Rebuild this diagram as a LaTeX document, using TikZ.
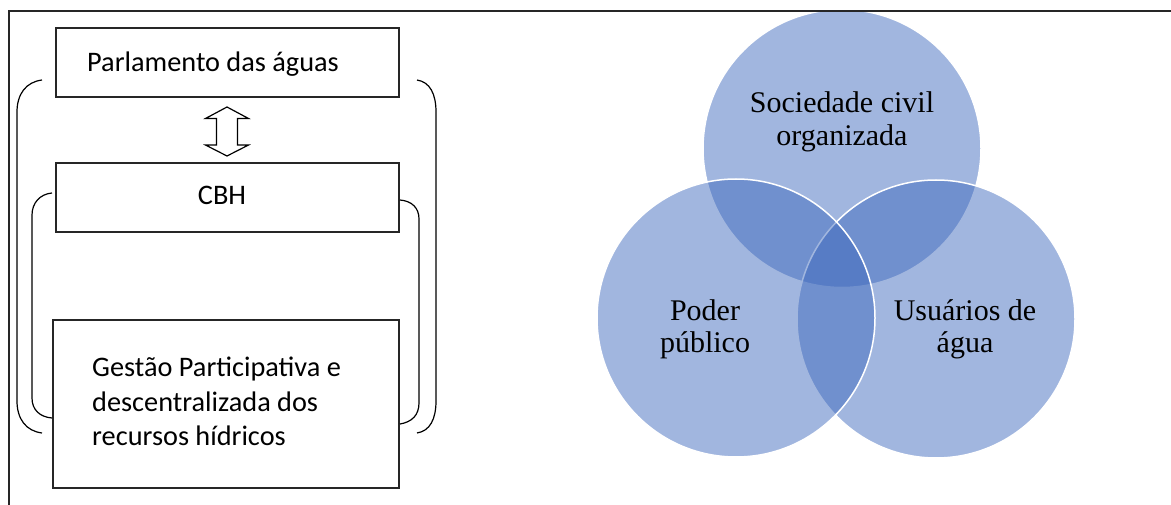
\documentclass[tikz,border=0pt]{standalone}
\usepackage{fontspec}
\setmainfont{Liberation Serif}
\newfontfamily\calfont{Carlito}
\definecolor{vblue}{RGB}{59,103,188}
\begin{document}
\begin{tikzpicture}[x=1pt,y=-1pt,
  boxst/.style={draw=black!85, line width=1.6pt, rectangle, inner sep=0pt, anchor=north west},
  bracket/.style={draw=black, line width=1.2pt},
  lbl/.style={font=\calfont\fontsize{28.3}{34}\selectfont, anchor=base west, inner sep=0pt},
  venn/.style={circle, minimum size=278pt, inner sep=0pt, fill=vblue, fill opacity=0.48, draw=white, line width=1.5pt},
  vlbl/.style={font=\fontsize{30}{32.5}\selectfont, align=center, inner sep=0pt, anchor=base}]
\useasboundingbox (0,0) rectangle (1171,505);
% boxes
\node[boxst, minimum width=343pt, minimum height=69pt] (parl) at (55,27) {};
\node[boxst, minimum width=343pt, minimum height=69pt] (cbh) at (55,162) {};
\node[boxst, minimum width=346pt, minimum height=168pt] (gest) at (52,319) {};
\node[lbl] (tparl) at (87,72) {Parlamento das águas};
\node[lbl, anchor=base] (tcbh) at (222,205) {CBH};
\node[lbl] (tg1) at (92,377) {Gestão Participativa e};
\node[lbl] (tg2) at (92,411) {descentralizada dos};
\node[lbl] (tg3) at (92,445) {recursos hídricos};
% double arrow
\coordinate (arr) at (227,131.5);
\draw[line width=1.2pt] (227,107) -- (248.5,118.5) -- (237.5,118.5) -- (237.5,145) -- (248.5,145)
  -- (227,156) -- (205.5,145) -- (216.5,145) -- (216.5,118.5) -- (205.5,118.5) -- cycle;
% outer brackets
\draw[bracket] (42,80) .. controls (26,82) and (17,94) .. (17,112) -- (17,401) .. controls (17,419) and (26,431) .. (42,433);
\draw[bracket] (417,80) .. controls (430,82) and (436,94) .. (436,112) -- (436,401) .. controls (436,419) and (430,431) .. (417,433);
% inner brackets
\draw[bracket] (52,193) .. controls (40,194) and (32,203) .. (32,215) -- (32,398) .. controls (32,410) and (40,417) .. (52,418);
\draw[bracket] (400,200) .. controls (412,201) and (419,208) .. (419,219) -- (419,403) .. controls (419,415) and (412,422) .. (400,424);
% venn
\node[venn] (soc) at (842,148.5) {};
\node[venn] (usu) at (936,319) {};
\node[venn] (pod) at (736,318) {};
\node[vlbl] (tsoc) at (842,145.5) {Sociedade civil\\organizada};
\node[vlbl] (tpod) at (705,352.5) {Poder\\público};
\node[vlbl] (tusu) at (965,352.5) {Usuários de\\água};
% frame
\draw[line width=1.5pt, draw=black!85] (1172,11) -- (9,11) -- (9,506);
\end{tikzpicture}
\end{document}
